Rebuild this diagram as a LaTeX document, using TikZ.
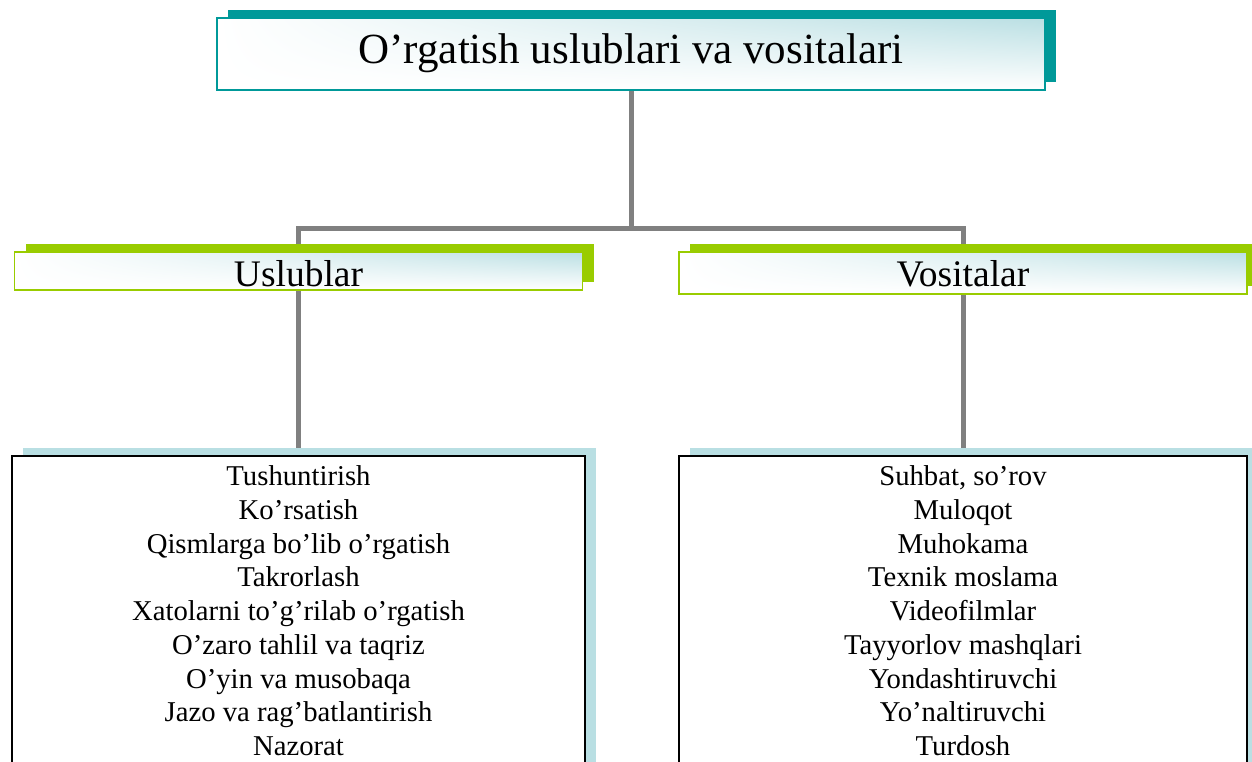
\documentclass[tikz,border=0pt]{standalone}
\usepackage{fontspec}
\setmainfont{Liberation Serif}
\usetikzlibrary{shadows,shadings}
\definecolor{tealc}{HTML}{009999}
\definecolor{greenc}{HTML}{99CC00}
\definecolor{lightc}{HTML}{BADFE3}
\definecolor{shadowc}{HTML}{B9DFE3}
\definecolor{linec}{HTML}{808080}
\pgfdeclarelayer{bg}
\pgfsetlayers{bg,main}
\begin{document}
\begin{tikzpicture}[x=1pt,y=-1pt,
  gradfill/.style={upper right=lightc, upper left=white, lower left=white, lower right=white},
  titlebox/.style={gradfill, draw=tealc, line width=1.5pt,
    general shadow={fill=tealc, shadow xshift=11pt, shadow yshift=7.5pt},
    minimum width=828pt, minimum height=72pt, inner sep=0pt,
    font=\fontsize{43}{50}\selectfont, text height=30pt, text depth=10pt},
  subbox/.style={gradfill, draw=greenc, line width=1.5pt,
    general shadow={fill=greenc, shadow xshift=11pt, shadow yshift=8pt},
    minimum height=38pt, inner sep=0pt,
    font=\fontsize{37.5}{42}\selectfont, text height=30pt, text depth=0pt},
  listbox/.style={fill=white, draw=black, line width=2pt,
    general shadow={fill=shadowc, shadow xshift=10.5pt, shadow yshift=8pt},
    minimum height=334pt, inner sep=0pt},
  listtext/.style={align=center, inner sep=0pt, anchor=north,
    font=\fontsize{28.7}{33.75}\selectfont},
  conn/.style={draw=linec, line width=5pt}
]
\useasboundingbox (0,0) rectangle (1252,762);

\node[titlebox] (top) at (631,54) {O’rgatish uslublari va vositalari};
\node[subbox, minimum width=568pt] (usl) at (298.5,271) {Uslublar};
\node[subbox, minimum width=568pt, minimum height=42pt, text height=28pt, text depth=2pt] (vos) at (963,273) {Vositalar};
\node[listbox, minimum width=573pt] (lbox) at (298.5,623) {};
\node[listbox, minimum width=568pt] (rbox) at (963,623) {};

\node[listtext] (ltext) at (298.5,465.4) {Tushuntirish\\Ko’rsatish\\Qismlarga bo’lib o’rgatish\\Takrorlash\\Xatolarni to’g’rilab o’rgatish\\O’zaro tahlil va taqriz\\O’yin va musobaqa\\Jazo va rag’batlantirish\\Nazorat};
\node[listtext] (rtext) at (963,465.4) {Suhbat, so’rov\\Muloqot\\Muhokama\\Texnik moslama\\Videofilmlar\\Tayyorlov mashqlari\\Yondashtiruvchi\\Yo’naltiruvchi\\Turdosh};

\coordinate (jl) at (298.5,228);
\coordinate (jr) at (963,228);
\coordinate (jm) at (631,228);

\begin{pgfonlayer}{bg}
\draw[conn] (lbox.north) -- (jl) -- (jr) -- (rbox.north);
\draw[conn] (top.south) -- (jm);
\end{pgfonlayer}
\end{tikzpicture}
\end{document}
